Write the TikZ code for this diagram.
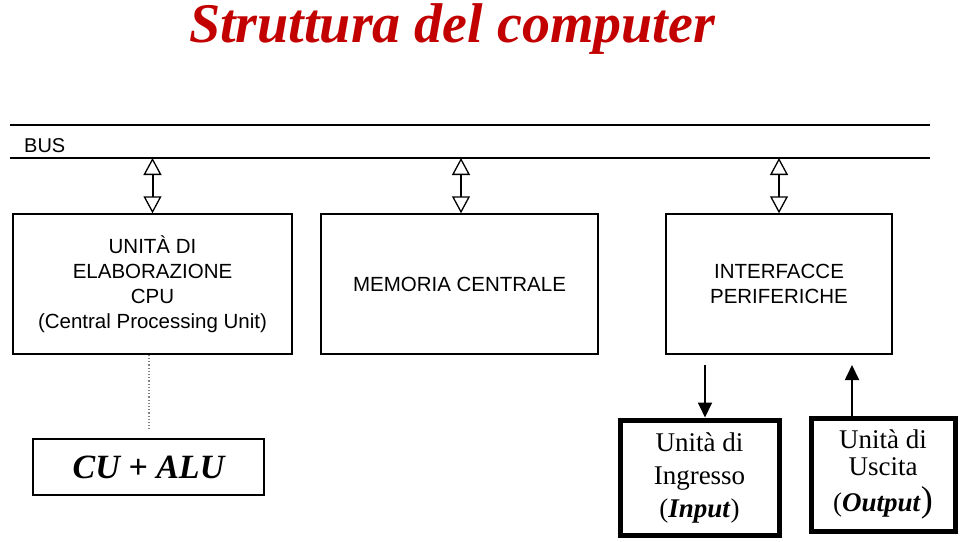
\documentclass[tikz,border=0pt]{standalone}
\usepackage{fontspec}
\setmainfont{Liberation Serif}
\setsansfont{Liberation Sans}
\usetikzlibrary{arrows.meta,positioning}
\usepackage{xcolor}
\definecolor{titlered}{rgb}{0.76,0.0,0.0}

\tikzset{
  unitbox/.style={draw, line width=1.5pt, align=center, inner sep=0pt,
    font=\sffamily\fontsize{20.5}{25}\selectfont},
  periph/.style={draw, line width=5pt, align=center, inner sep=0pt,
    font=\fontsize{27}{33}\selectfont},
  busline/.style={line width=1.5pt},
  busarrow/.style={line width=2pt,
    {Triangle[open,width=18pt,length=17pt,line width=1.3pt]}-{Triangle[open,width=18pt,length=17pt,line width=1.3pt]}},
  ioarrow/.style={line width=1.8pt, -{Triangle[width=14pt,length=15pt]}},
}

\begin{document}
\begin{tikzpicture}[x=1pt,y=-1pt]

    % whole page is 960 x 541 px
    \useasboundingbox (0,0) rectangle (960,541);

    % title
    \node[anchor=base west, inner sep=0pt, text=titlered,
        font=\bfseries\itshape\fontsize{56}{56}\selectfont] (title) at (189,42)
        {Struttura del computer};

    % bus
    \coordinate (busTL) at (10,125);
    \coordinate (busTR) at (930,125);
    \coordinate (busBL) at (10,158);
    \coordinate (busBR) at (930,158);
    \draw[busline] (busTL) -- (busTR);
    \draw[busline] (busBL) -- (busBR);
    \node[anchor=base west, inner sep=0pt, font=\sffamily\fontsize{20}{20}\selectfont]
        (bus) at (24,152) {BUS};

    % three units under the bus
    \node[unitbox, minimum width=279, minimum height=140] (cpu) at (152.5,284)
        {UNIT\`A DI\\ELABORAZIONE\\CPU\\(Central Processing Unit)};
    \node[unitbox, minimum width=277, minimum height=140] (mem) at (459.5,284)
        {MEMORIA CENTRALE};
    \node[unitbox, minimum width=226, minimum height=140] (intf) at (779,284)
        {INTERFACCE\\PERIFERICHE};

    \coordinate (bcpu) at (152.5,158);
    \coordinate (bmem) at (461,158);
    \coordinate (bintf) at (779,158);
    \draw[busarrow] (bcpu) -- (cpu.north);
    \draw[busarrow] (bmem) -- (bmem |- mem.north);
    \draw[busarrow] (bintf) -- (intf.north);

    % CU + ALU
    \node[draw, line width=1.5pt, minimum width=231, minimum height=56, inner sep=0pt,
        font=\bfseries\itshape\fontsize{34}{34}\selectfont] (cualu) at (148.5,467)
        {CU + ALU};
    \coordinate (dotend) at (149,429);
    \draw[gray, line width=1.2pt, dotted] (cpu.south -| dotend) -- (dotend);

    % input and output
    \node[periph, minimum width=159, minimum height=115] (inp) at (699.5,477.5)
        {Unit\`a di\\Ingresso\\(\textbf{\textit{Input}})};
    \node[periph, minimum width=144, minimum height=113] (outp) at (883,474.5)
        {Unit\`a di\\[-6pt]Uscita\\[3pt](\textbf{\textit{Output}}{\fontsize{36}{36}\selectfont)}};

    \coordinate (inStart) at (705,365);
    \coordinate (outEnd) at (852,365);
    \draw[ioarrow] (inStart) -- (inStart |- inp.north);
    \draw[ioarrow] (outEnd |- outp.north) -- (outEnd);

\end{tikzpicture}
\end{document}
